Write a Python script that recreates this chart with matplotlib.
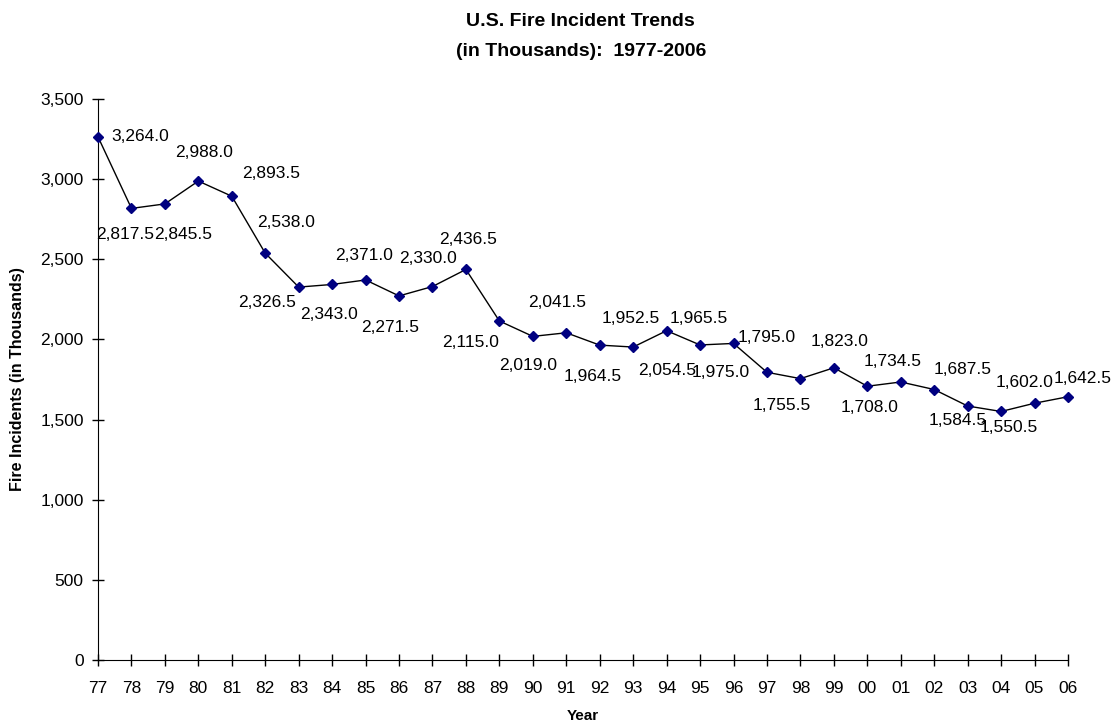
import matplotlib
matplotlib.use('Agg')
import matplotlib.pyplot as plt
from matplotlib.ticker import FuncFormatter

plt.rcParams['font.family'] = ['Liberation Sans', 'DejaVu Sans']

years = ['77', '78', '79', '80', '81', '82', '83', '84', '85', '86',
         '87', '88', '89', '90', '91', '92', '93', '94', '95', '96',
         '97', '98', '99', '00', '01', '02', '03', '04', '05', '06']
incidents = [3264.0, 2817.5, 2845.5, 2988.0, 2893.5, 2538.0, 2326.5, 2343.0, 2371.0, 2271.5,
             2330.0, 2436.5, 2115.0, 2019.0, 2041.5, 1964.5, 1952.5, 2054.5, 1965.5, 1975.0,
             1795.0, 1755.5, 1823.0, 1708.0, 1734.5, 1687.5, 1584.5, 1550.5, 1602.0, 1642.5]

# label offsets in pixels (dx, dy up), as placed in the original chart
label_offsets = [(42, 0), (-6, -26), (18, -31), (6, 29), (39, 23), (21, 31), (-32, -15), (-3, -30),
                 (-2, 24), (-9, -32), (-4, 28), (2, 30), (-29, -22), (-5, -29), (-9, 30), (-7, -31),
                 (-2, 29), (1, -40), (-1, 26), (-13, -29), (0, 35), (-19, -27), (6, 26), (2, -21),
                 (-8, 20), (28, 20), (-10, -14), (8, -16), (-10, 21), (15, 18)]

fig = plt.figure(figsize=(11.17, 7.26), dpi=100)
ax = fig.add_axes([98/1117, 66/726, 970/1117, 561/726])

x = list(range(len(years)))
ax.plot(x, incidents, color='black', lw=1.0, marker='D', markersize=5.5,
        markerfacecolor='#000080', markeredgecolor='#000080', zorder=3, clip_on=False)

for xi, v, (dx, dy) in zip(x, incidents, label_offsets):
    ax.annotate(f'{v:,.1f}', (xi, v), xytext=(dx, dy), textcoords='offset pixels',
                ha='center', va='center', fontsize=12.5)

ax.set_xlim(0, len(years) - 1)
ax.set_ylim(0, 3500)
ax.set_xticks(x)
ax.set_xticklabels(years)
ax.set_yticks(range(0, 3501, 500))
ax.yaxis.set_major_formatter(FuncFormatter(lambda v, p: f'{int(v):,}'))
ax.tick_params(direction='inout', length=8.5, width=1, labelsize=12.5)
ax.tick_params(axis='x', pad=11)
ax.tick_params(axis='y', pad=6)
for s in ['top', 'right']:
    ax.spines[s].set_visible(False)

ax.set_xlabel('Year', fontsize=11, fontweight='bold')
ax.set_ylabel('Fire Incidents (in Thousands)', fontsize=11.5, fontweight='bold')
ax.xaxis.set_label_coords(0.5, -(709 - 660) / 561)
ax.yaxis.set_label_coords(-(98 - 25) / 970, 0.5)
fig.text(0.52, 1 - 21/726, 'U.S. Fire Incident Trends', ha='center', va='center',
         fontsize=14, fontweight='bold')
fig.text(0.52, 1 - 51/726, '(in Thousands):  1977-2006', ha='center', va='center',
         fontsize=14, fontweight='bold')

fig.savefig('out.png', dpi=100)
